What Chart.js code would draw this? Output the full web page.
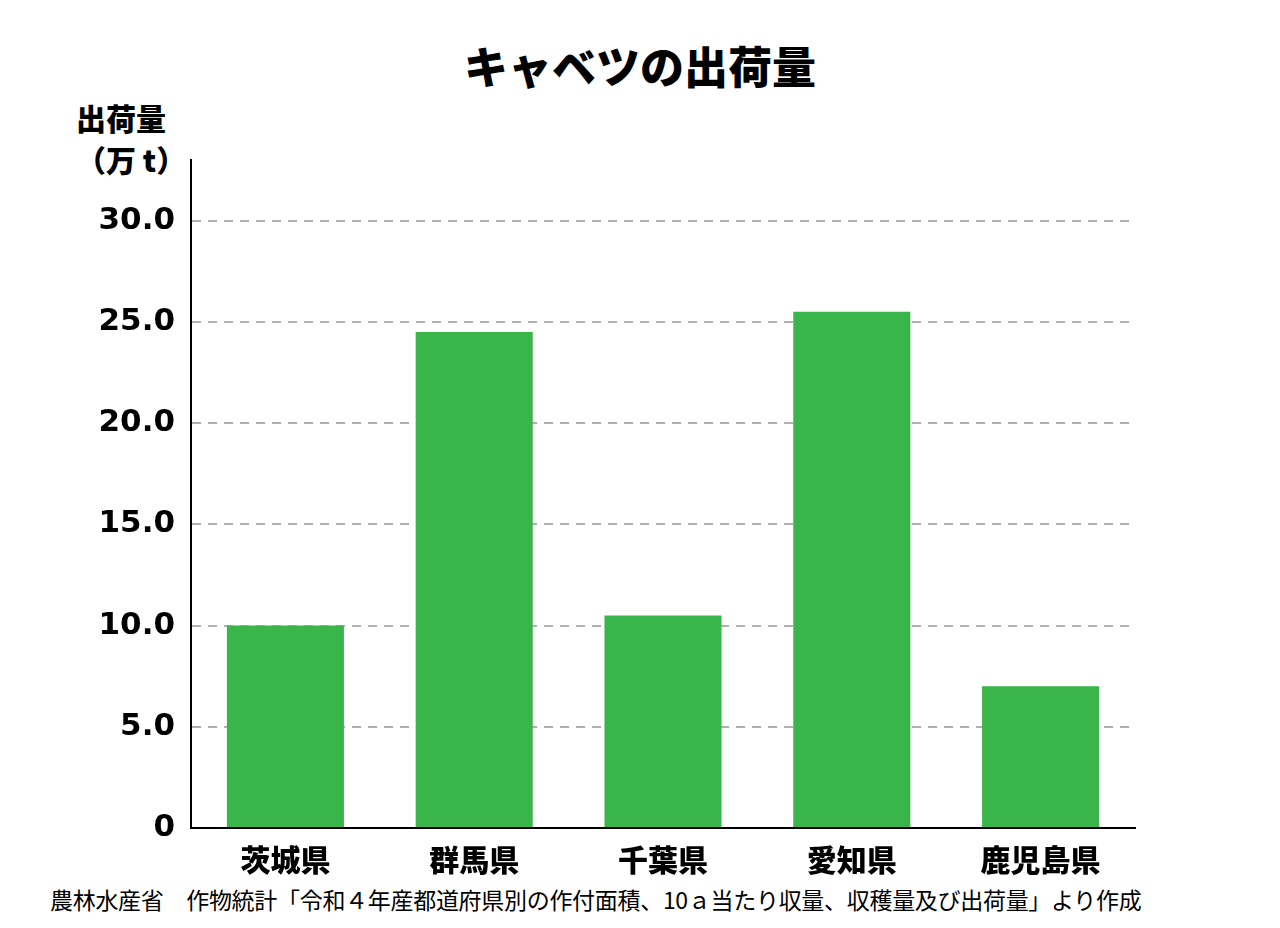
<!DOCTYPE html>
<html><head><meta charset="utf-8">
<script src="https://cdn.jsdelivr.net/npm/chart.js@4/dist/chart.umd.min.js"></script>
<style>body{margin:0;background:#fff}#w{position:relative;width:1280px;height:928px}
.t{position:absolute;font-family:"Noto Sans CJK JP";color:#000}</style></head>
<body><div id="w">
<div class="t" style="left:0;width:1280px;top:33px;text-align:center;font-size:44px;font-weight:900">キャベツの出荷量</div>
<div class="t" style="left:76px;top:96px;font-size:30px;font-weight:900;line-height:42px">出荷量<br>（万 t）</div>
<div class="t" style="left:50px;top:882px;font-size:23px;letter-spacing:-0.3px">農林水産省　作物統計「令和４年産都道府県別の作付面積、10ａ当たり収量、収穫量及び出荷量」より作成</div>
<canvas id="c" width="1280" height="928" style="position:absolute;left:0;top:0"></canvas></div>
<script>
const categories=["茨城県","群馬県","千葉県","愛知県","鹿児島県"];
const values=[10.0,24.5,10.5,25.5,7.0];
const ticks=[0,5,10,15,20,25,30];
new Chart(document.getElementById('c'),{type:'bar',
data:{labels:categories,datasets:[{data:values,backgroundColor:'#39b54a',categoryPercentage:0.62,barPercentage:1}]},
options:{responsive:false,animation:false,layout:{padding:{left:60,right:145,top:160,bottom:44}},
plugins:{legend:{display:false},tooltip:{enabled:false}},
scales:{x:{grid:{display:false},border:{color:'#000',width:2},ticks:{color:'#000',font:{family:'Noto Sans CJK JP',size:30,weight:'900'},padding:6}},
y:{min:0,max:33,afterBuildTicks:a=>{a.ticks=ticks.map(v=>({value:v}))},afterFit:a=>{a.width=131},
grid:{color:c=>c.tick.value===0?'rgba(0,0,0,0)':'#b0b0b0',drawTicks:false,lineWidth:2},
border:{color:'#000',width:2,dash:[9,7]},
ticks:{color:'#000',padding:16,font:{family:'Verdana, DejaVu Sans',size:31,weight:'bold'},callback:v=>v===0?'0':v.toFixed(1)}}}}});
</script>
</body></html>
